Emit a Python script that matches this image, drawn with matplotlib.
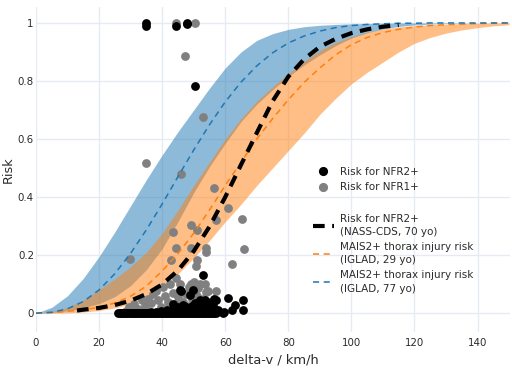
import numpy as np
import matplotlib.pyplot as plt
from matplotlib.lines import Line2D

# delta-v grid (km/h) at which the risk curves were read
dv = [0, 5, 10, 15, 20, 25, 30, 35, 40, 45, 50, 55, 60, 65, 70, 75,
      80, 85, 90, 95, 100, 105, 110, 115, 120, 125, 130, 135, 140, 145, 150]

# MAIS2+ thorax injury risk, IGLAD, 77 yo (mean, upper, lower)
old_mid = [0, 0.003, 0.015, 0.040, 0.080, 0.136, 0.206, 0.287, 0.376, 0.470, 0.562,
           0.649, 0.728, 0.796, 0.852, 0.897, 0.931, 0.955, 0.972, 0.984, 0.991,
           0.995, 0.997, 0.999, 0.999, 1, 1, 1, 1, 1, 1]
old_hi = [0, 0.02, 0.06, 0.12, 0.195, 0.28, 0.37, 0.46, 0.545, 0.625, 0.70,
          0.775, 0.845, 0.90, 0.94, 0.963, 0.978, 0.987, 0.992, 0.995, 0.997,
          0.998, 0.999, 1, 1, 1, 1, 1, 1, 1, 1]
old_lo = [0, 0.002, 0.008, 0.018, 0.033, 0.057, 0.095, 0.15, 0.222, 0.315, 0.415,
          0.505, 0.585, 0.66, 0.72, 0.77, 0.815, 0.855, 0.89, 0.922, 0.948,
          0.966, 0.979, 0.988, 0.993, 0.996, 0.998, 0.999, 1, 1, 1]

# MAIS2+ thorax injury risk, IGLAD, 29 yo (mean, upper, lower)
young_mid = [0, 0.002, 0.006, 0.012, 0.02, 0.035, 0.058, 0.093, 0.145, 0.205, 0.275,
             0.355, 0.44, 0.52, 0.60, 0.67, 0.735, 0.795, 0.845, 0.89, 0.925,
             0.95, 0.967, 0.978, 0.986, 0.991, 0.994, 0.996, 0.998, 0.999, 1.0]
young_hi = [0, 0.005, 0.02, 0.045, 0.08, 0.118, 0.16, 0.21, 0.275, 0.355, 0.44,
            0.52, 0.60, 0.67, 0.73, 0.78, 0.825, 0.868, 0.905, 0.933, 0.953,
            0.968, 0.979, 0.986, 0.991, 0.994, 0.996, 0.998, 0.999, 1, 1]
young_lo = [0, 0, 0.001, 0.004, 0.009, 0.018, 0.032, 0.055, 0.09, 0.135, 0.19,
            0.25, 0.315, 0.375, 0.44, 0.50, 0.56, 0.62, 0.685, 0.74, 0.79,
            0.83, 0.865, 0.90, 0.93, 0.95, 0.965, 0.976, 0.984, 0.99, 0.994]

# Risk for NFR2+, NASS-CDS, 70 yo
nass_dv = [13, 15, 20, 25, 30, 35, 40, 45, 50, 55, 60, 65, 70, 75, 80, 85, 90,
           95, 100, 105, 110, 115]
nass_risk = [0.009, 0.012, 0.018, 0.028, 0.043, 0.066, 0.099, 0.147, 0.213, 0.298,
             0.40, 0.511, 0.621, 0.73, 0.815, 0.875, 0.918, 0.945, 0.965, 0.978,
             0.987, 0.993]

# individual cases: risk for NFR2+ (many cases sit at zero risk)
nfr2_zero_dv = [26.0, 26.5, 27.0, 27.5, 28.0, 28.5, 29.0, 29.5, 30.0, 30.5, 31.0,
                31.5, 32.0, 32.5, 33.0, 33.5, 34.0, 34.5, 35.0, 35.5, 36.0, 36.5,
                37.0, 37.5, 38.0, 38.5, 39.0, 39.5, 40.0, 40.5, 41.0, 41.5, 42.0,
                42.5, 43.0, 43.5, 44.0, 44.5, 45.0, 45.5, 46.0, 46.5, 47.0, 47.5,
                48.0, 48.5, 49.0, 49.5, 50.0, 50.5, 51.0, 51.5, 52.0, 52.5, 53.0,
                53.5, 54.0, 54.5, 55.0, 55.5, 56.0, 56.5, 57.0]
nfr2_dv = [35.0, 35.0, 44.5, 47.9, 47.9, 50.3,
           59.5, 62.2, 65.6, 65.6, 60.9, 63.0, 57.2, 59.3, 52.9, 49.8, 45.6, 46.1,
           48.7, 53.5, 56.6, 43.5, 47.5, 50.5, 52.0, 53.5, 55.0, 56.5, 44.5, 48.5,
           51.5, 54.0, 41.5, 39.5, 57.8, 45.0, 46.5, 48.0, 49.5, 51.0, 52.5, 54.5,
           55.8, 42.5, 50.0, 53.0, 56.0, 38.0, 36.5]
nfr2_risk = [1.0, 0.99, 0.99, 1.0, 0.995, 0.783,
             0.005, 0.01, 0.01, 0.044, 0.052, 0.028, 0.045, 0.0, 0.131, 0.079, 0.079, 0.077,
             0.062, 0.045, 0.05, 0.03, 0.02, 0.035, 0.045, 0.025, 0.03, 0.018, 0.012, 0.01,
             0.015, 0.008, 0.012, 0.008, 0.01, 0.02, 0.028, 0.015, 0.025, 0.02, 0.03, 0.035,
             0.012, 0.006, 0.012, 0.01, 0.035, 0.005, 0.004]

# individual cases: risk for NFR1+
nfr1_dv = [44.5, 50.3, 47.4, 52.9, 35.0, 46.1,
           56.4, 60.9, 57.2, 65.3, 49.3, 51.2, 43.3, 44.3, 49.3, 53.8, 66.1, 29.7,
           42.9, 50.9, 53.8, 50.6, 62.2, 44.5, 51.4, 54.0, 49.3, 51.9,
           29.5, 31.0, 32.5, 33.5, 34.5, 35.5, 36.5, 37.2, 38.2, 38.8, 39.5, 40.3,
           41.0, 41.8, 42.5, 43.5, 44.0, 45.0, 45.6, 46.5, 47.5, 48.0, 48.5, 49.5,
           50.0, 51.0, 52.0, 52.9, 53.5, 54.5, 55.0, 56.1, 56.5, 57.2, 28.5, 30.5,
           42.0, 46.0, 35.0]
nfr1_risk = [1.0, 1.0, 0.886, 0.675, 0.516, 0.479,
             0.43, 0.361, 0.321, 0.324, 0.303, 0.286, 0.28, 0.226, 0.226, 0.226, 0.22, 0.186,
             0.184, 0.183, 0.21, 0.163, 0.168, 0.12, 0.087, 0.073, 0.1, 0.1,
             0.02, 0.03, 0.015, 0.045, 0.025, 0.05, 0.035, 0.065, 0.078, 0.045, 0.02, 0.09,
             0.06, 0.04, 0.1, 0.07, 0.03, 0.055, 0.1, 0.04, 0.066, 0.025, 0.09, 0.05,
             0.106, 0.06, 0.03, 0.048, 0.1, 0.077, 0.04, 0.042, 0.015, 0.077, 0.008, 0.01,
             0.015, 0.012, 0.012]

txt = '#2b2b2b'
grid_c = '#e6ebf3'
msize = 40

fig = plt.figure(figsize=(5.12, 3.68), dpi=100)
ax = fig.add_axes([36 / 512, 36 / 368, 474 / 512, 325 / 368])

# confidence bands: blue first, orange on top (gives the brown overlap)
ax.fill_between(dv, old_lo, old_hi, color='#1f77b4', alpha=0.5, lw=0, zorder=1)
ax.fill_between(dv, young_lo, young_hi, color='#ff7f0e', alpha=0.5, lw=0, zorder=1.1)

ax.scatter(nfr1_dv, nfr1_risk, s=msize, color='#808080', lw=0, zorder=2)
ax.scatter(nfr2_zero_dv, np.zeros(len(nfr2_zero_dv)), s=msize, color='black', lw=0, zorder=2.1)
ax.scatter(nfr2_dv, nfr2_risk, s=msize, color='black', lw=0, zorder=2.1)

ax.plot(dv, young_mid, color='#ff7f0e', lw=1.1, dashes=(4, 3), zorder=3)
ax.plot(dv, old_mid, color='#1f77b4', lw=1.1, dashes=(4, 3), zorder=3)
ax.plot(nass_dv, nass_risk, color='black', lw=3.0, dashes=(2.8, 1.8), zorder=4)

ax.set_xlim(0, 150.3)
ax.set_ylim(-0.065, 1.055)
ax.set_xticks([0, 20, 40, 60, 80, 100, 120, 140])
ax.set_yticks([0, 0.2, 0.4, 0.6, 0.8, 1])
ax.set_yticklabels(['0', '0.2', '0.4', '0.6', '0.8', '1'])
ax.grid(color=grid_c, lw=1.0)
ax.set_axisbelow(True)
for sp in ax.spines.values():
    sp.set_visible(False)
ax.tick_params(axis='x', length=0, pad=4, labelsize=7.4, labelcolor=txt)
ax.tick_params(axis='y', length=0, pad=1.5, labelsize=7.4, labelcolor=txt)
ax.set_xlabel('delta-v / km/h', fontsize=9.4, color=txt, labelpad=4)
ax.set_ylabel('Risk', fontsize=9.2, color=txt, labelpad=2)

# legends
h1 = Line2D([], [], ls='none', marker='o', ms=6.6, mec='none', color='black')
h2 = Line2D([], [], ls='none', marker='o', ms=6.6, mec='none', color='#808080')
leg1 = ax.legend([h1, h2], ['Risk for NFR2+', 'Risk for NFR1+'],
                 loc='upper left', bbox_to_anchor=(313 / 512, 1 - 167 / 368),
                 bbox_transform=fig.transFigure, frameon=False, fontsize=7.5,
                 handlelength=2.0, handletextpad=0.55, borderpad=0,
                 borderaxespad=0, labelspacing=0.5, labelcolor=txt)
ax.add_artist(leg1)
h3 = Line2D([], [], color='black', lw=3.0, dashes=(2.8, 1.8))
h4 = Line2D([], [], color='#ff7f0e', lw=1.1, dashes=(4, 3))
h5 = Line2D([], [], color='#1f77b4', lw=1.1, dashes=(4, 3))
leg2 = ax.legend([h3, h4, h5],
                 ['Risk for NFR2+\n(NASS-CDS, 70 yo)',
                  'MAIS2+ thorax injury risk\n(IGLAD, 29 yo)',
                  'MAIS2+ thorax injury risk\n(IGLAD, 77 yo)'],
                 loc='upper left', bbox_to_anchor=(313 / 512, 1 - 214 / 368),
                 bbox_transform=fig.transFigure, frameon=False, fontsize=7.5,
                 handlelength=2.0, handletextpad=0.55, borderpad=0,
                 borderaxespad=0, labelspacing=0.5, labelcolor=txt)
for t in leg2.get_texts():
    t.set_linespacing(1.38)

fig.savefig('out.png', dpi=100)
